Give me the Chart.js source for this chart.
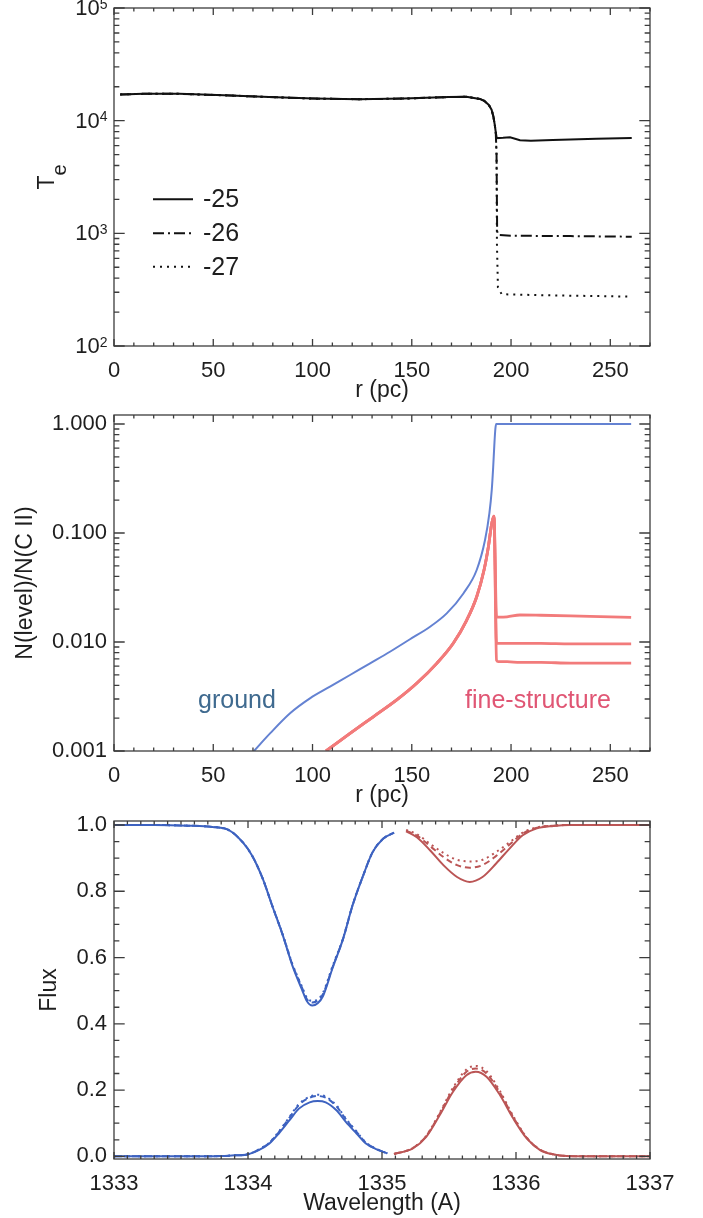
<!DOCTYPE html>
<html>
<head>
<meta charset="utf-8">
<script src="https://cdn.jsdelivr.net/npm/chart.js@4.4.0/dist/chart.umd.min.js"></script>
<style>
  html, body { margin: 0; padding: 0; background: #fff; }
  #page { position: relative; width: 703px; height: 1218px; }
  canvas { position: absolute; left: 0; }
</style>
</head>
<body>
<div id="page">
  <canvas id="c-te"   width="703" height="405" style="top:0px"></canvas>
  <canvas id="c-lev"  width="703" height="405" style="top:405px"></canvas>
  <canvas id="c-flux" width="703" height="408" style="top:810px"></canvas>
</div>
<script>
// ---- panel 1 : electron temperature vs r ----
const seriesLabels = ["-25", "-26", "-27"];
const rShared  = [3.1, 15, 32.9, 55.5, 78.1, 100.7, 123.3, 145.9, 168.5, 177.5, 184.3, 186.5, 188.8, 190.2, 191.1, 191.8, 192.3];
const teShared = [17100, 17300, 17300, 16800, 16200, 15700, 15500, 15700, 16200, 16300, 15600, 15000, 13800, 12500, 10900, 9200, 7900];
const rTail25  = [192.8, 196, 199.5, 204.5, 210, 221, 243, 260.8];
const teTail25 = [7000, 7050, 7130, 6700, 6650, 6730, 6920, 7000];
const rTail26  = [192.7, 193.0, 193.5, 201, 230, 260.8];
const teTail26 = [5000, 1050, 966, 952, 945, 933];
const rTail27  = [192.7, 192.9, 193.4, 195.3, 213, 240, 260.8];
const teTail27 = [5000, 800, 330, 288, 283, 278, 274];
const rTicks    = [0, 50, 100, 150, 200, 250];
const teTicks   = [100, 1000, 10000, 100000];
const teTickExp = ["2", "3", "4", "5"];

// ---- panel 2 : level populations ----
const rGround = [70.5, 78.6, 88.7, 98.7, 108.8, 118.9, 129.0, 139.0, 149.1, 159.2, 167.6, 176.0, 182.7, 186.9, 189.1, 190.3, 191.0, 191.6, 192.1, 192.5, 200, 220, 240, 260.5];
const ground  = [0.001, 0.00145, 0.00222, 0.00304, 0.00389, 0.00498, 0.00637, 0.00814, 0.0106, 0.0138, 0.0183, 0.0279, 0.0458, 0.0862, 0.152, 0.25, 0.4, 0.65, 0.9, 1.0, 1.0, 1.0, 1.0, 1.0];
const rFine    = [106.8, 118.9, 130.6, 142.4, 152.5, 162.6, 170.9, 177.7, 182.7, 186.4, 188.6, 190.3, 191.4];
const fineRise = [0.001, 0.00145, 0.00206, 0.00294, 0.00418, 0.00637, 0.00973, 0.0159, 0.026, 0.0458, 0.075, 0.123, 0.143];
const rFineTail = [192.7, 193.6, 198, 204.5, 215, 230, 245, 260.5];
const fineTop   = [0.0171, 0.0169, 0.0170, 0.0177, 0.0176, 0.0174, 0.0171, 0.0168];
const fineMid   = [0.0097, 0.0097, 0.0097, 0.0097, 0.0097, 0.0096, 0.0096, 0.0096];
const fineLow   = [0.0068, 0.0066, 0.0066, 0.0065, 0.0065, 0.0064, 0.0064, 0.0064];
const levTicks      = [0.001, 0.01, 0.1, 1];
const levTickLabels = ["0.001", "0.010", "0.100", "1.000"];

// ---- panel 3 : line profiles ----
const wlBlueAbs   = [1333.0, 1333.3, 1333.55, 1333.735, 1333.86, 1333.96, 1334.03, 1334.11, 1334.18, 1334.26, 1334.33, 1334.40, 1334.44, 1334.48, 1334.52, 1334.56, 1334.63, 1334.71, 1334.78, 1334.86, 1334.93, 1335.01, 1335.09];
const blueAbsSolid = [1.0, 1.0, 0.998, 0.994, 0.984, 0.948, 0.908, 0.838, 0.757, 0.667, 0.577, 0.506, 0.468, 0.455, 0.462, 0.484, 0.567, 0.657, 0.757, 0.848, 0.918, 0.959, 0.977];
const blueAbsDash  = [1.0, 1.0, 0.998, 0.994, 0.984, 0.948, 0.908, 0.838, 0.757, 0.667, 0.580, 0.512, 0.474, 0.464, 0.470, 0.490, 0.570, 0.657, 0.757, 0.848, 0.918, 0.959, 0.977];
const blueAbsDot   = [1.0, 1.0, 0.998, 0.994, 0.984, 0.948, 0.908, 0.838, 0.758, 0.669, 0.582, 0.515, 0.478, 0.469, 0.474, 0.494, 0.573, 0.659, 0.758, 0.848, 0.918, 0.959, 0.977];
const wlBlueEm    = [1333.0, 1333.5, 1333.8, 1333.9, 1333.985, 1334.08, 1334.16, 1334.23, 1334.31, 1334.38, 1334.46, 1334.52, 1334.58, 1334.66, 1334.73, 1334.81, 1334.88, 1334.96, 1335.04];
const blueEmSolid = [0, 0, 0.001, 0.003, 0.005, 0.019, 0.039, 0.069, 0.109, 0.144, 0.163, 0.167, 0.163, 0.139, 0.104, 0.069, 0.039, 0.021, 0.009];
const blueEmDash  = [0, 0, 0.001, 0.003, 0.005, 0.020, 0.041, 0.073, 0.117, 0.155, 0.177, 0.182, 0.177, 0.151, 0.112, 0.074, 0.041, 0.022, 0.009];
const blueEmDot   = [0, 0, 0.001, 0.003, 0.005, 0.021, 0.042, 0.075, 0.119, 0.158, 0.180, 0.186, 0.180, 0.154, 0.114, 0.075, 0.042, 0.022, 0.009];
const wlRedAbs    = [1335.18, 1335.26, 1335.36, 1335.46, 1335.56, 1335.655, 1335.75, 1335.85, 1335.95, 1336.05, 1336.15, 1336.28, 1336.4, 1336.6, 1336.8, 1337.0];
const redAbsSolid = [0.981, 0.963, 0.923, 0.878, 0.843, 0.828, 0.843, 0.883, 0.928, 0.969, 0.989, 0.997, 1, 1, 1, 1];
const redAbsDash  = [0.983, 0.968, 0.936, 0.903, 0.879, 0.871, 0.879, 0.906, 0.940, 0.974, 0.991, 0.998, 1, 1, 1, 1];
const redAbsDot   = [0.985, 0.972, 0.943, 0.915, 0.895, 0.890, 0.895, 0.918, 0.947, 0.977, 0.992, 0.998, 1, 1, 1, 1];
const wlRedEm     = [1335.09, 1335.23, 1335.33, 1335.43, 1335.53, 1335.63, 1335.70, 1335.78, 1335.88, 1335.98, 1336.08, 1336.18, 1336.28, 1336.38, 1336.6, 1337.0];
const redEmSolid  = [0.007, 0.024, 0.059, 0.124, 0.195, 0.245, 0.255, 0.240, 0.185, 0.114, 0.054, 0.019, 0.006, 0.001, 0, 0];
const redEmDash   = [0.007, 0.025, 0.061, 0.128, 0.202, 0.255, 0.265, 0.250, 0.192, 0.118, 0.056, 0.020, 0.006, 0.001, 0, 0];
const redEmDot    = [0.007, 0.025, 0.062, 0.131, 0.207, 0.262, 0.273, 0.257, 0.197, 0.121, 0.057, 0.020, 0.006, 0.001, 0, 0];
const wlTicks        = [1333, 1334, 1335, 1336, 1337];
const fluxTicks      = [0, 0.2, 0.4, 0.6, 0.8, 1.0];
const fluxTickLabels = ["0.0", "0.2", "0.4", "0.6", "0.8", "1.0"];

// ---- style ----
const FONT  = "'Liberation Sans', Arial, Helvetica, sans-serif";
const INK   = "#1e1e1e";
const FRAME = "#3c3c3c";
const TICK_FONT  = { family: FONT, size: 22 };
const TITLE_FONT = { family: FONT, size: 23 };
const DASH_DOT = [11, 4, 2, 4];
const DOTTED   = [2, 5];
const BLUE_LEV  = "#6482d2";
const RED_LEV   = "#f27b7b";
const BLUE_FLUX = "#3d62c0";
const RED_FLUX  = "#bb5555";

function pts(xs, ys) {
  return xs.map((x, i) => ({ x, y: ys[i] }));
}

// box + inward major/minor ticks on all four sides
const idlAxes = {
  id: "idlAxes",
  afterDatasetsDraw(chart, args, o) {
    const { ctx, chartArea: a } = chart;
    const xs = chart.scales.x, ys = chart.scales.y;
    ctx.save();
    ctx.strokeStyle = FRAME;
    ctx.lineWidth = 1.3;
    ctx.strokeRect(a.left, a.top, a.right - a.left, a.bottom - a.top);
    ctx.beginPath();
    const xTick = (v, len) => {
      const p = xs.getPixelForValue(v);
      ctx.moveTo(p, a.bottom); ctx.lineTo(p, a.bottom - len);
      ctx.moveTo(p, a.top);    ctx.lineTo(p, a.top + len);
    };
    const yTick = (v, len) => {
      const p = ys.getPixelForValue(v);
      ctx.moveTo(a.left, p);  ctx.lineTo(a.left + len, p);
      ctx.moveTo(a.right, p); ctx.lineTo(a.right - len, p);
    };
    xs.ticks.forEach(t => xTick(t.value, o.xLen));
    ys.ticks.forEach(t => yTick(t.value, o.yLen));
    const k0 = Math.ceil(xs.min / o.xMinor - 1e-9);
    for (let k = k0; k * o.xMinor <= xs.max + 1e-9; k++) xTick(k * o.xMinor, o.xLen / 2);
    if (o.yMinor === "log") {
      for (let d = Math.floor(Math.log10(ys.min)); d <= Math.ceil(Math.log10(ys.max)); d++) {
        for (let m = 2; m <= 9; m++) {
          const v = m * Math.pow(10, d);
          if (v > ys.min && v < ys.max) yTick(v, o.yLen / 2);
        }
      }
    } else {
      const j0 = Math.ceil(ys.min / o.yMinor - 1e-9);
      for (let j = j0; j * o.yMinor <= ys.max + 1e-9; j++) yTick(j * o.yMinor, o.yLen / 2);
    }
    ctx.stroke();
    ctx.restore();
  },
};

// 10^n tick labels and the T_e title (need mixed font sizes)
const sciText = {
  id: "sciText",
  afterDraw(chart, args, o) {
    if (!o.exps) return;
    const { ctx, chartArea: a } = chart;
    const ys = chart.scales.y;
    ctx.save();
    ctx.fillStyle = INK;
    ys.ticks.forEach((t, i) => {
      const p = ys.getPixelForValue(t.value);
      ctx.font = `14px ${FONT}`;
      const w = ctx.measureText(o.exps[i]).width;
      ctx.textAlign = "left";
      ctx.textBaseline = "alphabetic";
      ctx.fillText(o.exps[i], o.right - w, p + 0.5);
      ctx.font = `22px ${FONT}`;
      ctx.textAlign = "right";
      ctx.textBaseline = "middle";
      ctx.fillText("10", o.right - w, p + 1);
    });
    // rotated title with subscript
    ctx.translate(o.titleX, (a.top + a.bottom) / 2);
    ctx.rotate(-Math.PI / 2);
    ctx.textAlign = "left";
    ctx.textBaseline = "alphabetic";
    ctx.font = `23px ${FONT}`;
    const tw = ctx.measureText(o.title[0]).width;
    ctx.font = `20px ${FONT}`;
    const ew = ctx.measureText(o.title[1]).width;
    const x0 = -(tw + ew) / 2;
    ctx.font = `23px ${FONT}`;
    ctx.fillText(o.title[0], x0, 2);
    ctx.font = `20px ${FONT}`;
    ctx.fillText(o.title[1], x0 + tw, 14);
    ctx.restore();
  },
};

// legend with line samples inside the plot
const lineKey = {
  id: "lineKey",
  afterDraw(chart, args, o) {
    if (!o.rows) return;
    const { ctx } = chart;
    ctx.save();
    chart.data.datasets.forEach((ds, i) => {
      const y = o.rows[i];
      ctx.strokeStyle = ds.borderColor;
      ctx.lineWidth = ds.borderWidth;
      ctx.setLineDash(ds.borderDash || []);
      ctx.beginPath();
      ctx.moveTo(o.x0, y); ctx.lineTo(o.x1, y);
      ctx.stroke();
      ctx.setLineDash([]);
      ctx.fillStyle = INK;
      ctx.font = `${o.size}px ${FONT}`;
      ctx.textBaseline = "middle";
      ctx.fillText(ds.label, o.tx, y + 1);
    });
    ctx.restore();
  },
};

// free text notes placed inside the plot
const notes = {
  id: "notes",
  afterDraw(chart, args, o) {
    if (!o.items) return;
    const { ctx } = chart;
    ctx.save();
    o.items.forEach(n => {
      ctx.fillStyle = n.color;
      ctx.font = `${n.size}px ${FONT}`;
      ctx.textBaseline = "alphabetic";
      ctx.fillText(n.text, n.x, n.y);
    });
    ctx.restore();
  },
};

function xAxis(min, max, ticks, title) {
  return {
    type: "linear", min, max,
    afterBuildTicks: s => { s.ticks = ticks.map(v => ({ value: v })); },
    afterFit: s => { s.height = 59; s.paddingLeft = 0; s.paddingRight = 0; },
    grid: { display: false, drawTicks: false },
    border: { display: false },
    ticks: { padding: 12, color: INK, font: TICK_FONT, maxRotation: 0, autoSkip: false, callback: v => String(v) },
    title: { display: true, text: title, color: INK, font: TITLE_FONT, padding: { top: 0, bottom: 1 } },
  };
}

function yAxis(type, min, max, ticks, labels, title, titlePad) {
  return {
    type, min, max,
    afterBuildTicks: s => { s.ticks = ticks.map(v => ({ value: v })); },
    afterFit: s => { s.width = 114; s.paddingTop = 0; s.paddingBottom = 0; },
    grid: { display: false, drawTicks: false },
    border: { display: false },
    ticks: { padding: 7, color: INK, font: TICK_FONT, autoSkip: false, callback: (v, i) => labels ? labels[i] : "" },
    title: { display: !!title, text: title || "", color: INK, font: TITLE_FONT, padding: { top: titlePad, bottom: 0 } },
  };
}

function baseOptions(padTop, scales, pluginOpts) {
  return {
    responsive: false,
    animation: false,
    events: [],
    devicePixelRatio: 1,
    layout: { padding: { top: padTop, right: 53, bottom: 0, left: 0 }, autoPadding: false },
    elements: { point: { radius: 0 }, line: { tension: 0, borderCapStyle: "butt" } },
    plugins: Object.assign({ legend: { display: false }, tooltip: { enabled: false } }, pluginOpts),
    scales,
  };
}

// ---- chart 1 ----
new Chart(document.getElementById("c-te"), {
  type: "line",
  data: {
    datasets: [
      { label: seriesLabels[0], data: pts(rShared.concat(rTail25), teShared.concat(teTail25)), borderColor: "#111", borderWidth: 2 },
      { label: seriesLabels[1], data: pts(rShared.concat(rTail26), teShared.concat(teTail26)), borderColor: "#111", borderWidth: 2, borderDash: DASH_DOT },
      { label: seriesLabels[2], data: pts(rShared.concat(rTail27), teShared.concat(teTail27)), borderColor: "#111", borderWidth: 2, borderDash: DOTTED },
    ],
  },
  options: baseOptions(8, {
    x: xAxis(0, 270, rTicks, "r (pc)"),
    y: yAxis("logarithmic", 100, 100000, teTicks, null, null, 0),
  }, {
    idlAxes: { xLen: 7, yLen: 10.7, xMinor: 10, yMinor: "log" },
    sciText: { exps: teTickExp, right: 107.5, title: ["T", "e"], titleX: 52 },
    lineKey: { x0: 153, x1: 193, tx: 203, size: 25, rows: [199.3, 233.3, 266.7] },
  }),
  plugins: [idlAxes, sciText, lineKey],
});

// ---- chart 2 ----
new Chart(document.getElementById("c-lev"), {
  type: "line",
  data: {
    datasets: [
      { label: "ground", data: pts(rGround, ground), borderColor: BLUE_LEV, borderWidth: 2, cubicInterpolationMode: "monotone" },
      { label: "fs1", data: pts(rFine.concat(rFineTail), fineRise.concat(fineTop)), borderColor: RED_LEV, borderWidth: 2.8, cubicInterpolationMode: "monotone" },
      { label: "fs2", data: pts(rFine.concat(rFineTail), fineRise.concat(fineMid)), borderColor: RED_LEV, borderWidth: 2.8, cubicInterpolationMode: "monotone" },
      { label: "fs3", data: pts(rFine.concat(rFineTail), fineRise.concat(fineLow)), borderColor: RED_LEV, borderWidth: 2.8, cubicInterpolationMode: "monotone" },
    ],
  },
  options: baseOptions(10, {
    x: xAxis(0, 270, rTicks, "r (pc)"),
    y: yAxis("logarithmic", 0.001, 1.21, levTicks, levTickLabels, "N(level)/N(C II)", 12),
  }, {
    idlAxes: { xLen: 7, yLen: 10.7, xMinor: 10, yMinor: "log" },
    notes: { items: [
      { text: "ground", x: 198, y: 303, size: 25, color: "#3f6a8f" },
      { text: "fine-structure", x: 465, y: 303, size: 25, color: "#e05674" },
    ] },
  }),
  plugins: [idlAxes, notes],
});

// ---- chart 3 ----
function prof(wl, vals, color, dash) {
  return { data: pts(wl, vals), borderColor: color, borderWidth: 2, borderDash: dash, cubicInterpolationMode: "monotone" };
}
new Chart(document.getElementById("c-flux"), {
  type: "line",
  data: {
    datasets: [
      prof(wlBlueAbs, blueAbsSolid, BLUE_FLUX, []),
      prof(wlBlueAbs, blueAbsDash, BLUE_FLUX, [6, 4]),
      prof(wlBlueAbs, blueAbsDot, BLUE_FLUX, [2, 4]),
      prof(wlBlueEm, blueEmSolid, BLUE_FLUX, []),
      prof(wlBlueEm, blueEmDash, BLUE_FLUX, [6, 4]),
      prof(wlBlueEm, blueEmDot, BLUE_FLUX, [2, 4]),
      prof(wlRedAbs, redAbsSolid, RED_FLUX, []),
      prof(wlRedAbs, redAbsDash, RED_FLUX, [6, 4]),
      prof(wlRedAbs, redAbsDot, RED_FLUX, [2, 4]),
      prof(wlRedEm, redEmSolid, RED_FLUX, []),
      prof(wlRedEm, redEmDash, RED_FLUX, [6, 4]),
      prof(wlRedEm, redEmDot, RED_FLUX, [2, 4]),
    ],
  },
  options: baseOptions(11, {
    x: xAxis(1333, 1337, wlTicks, "Wavelength (A)"),
    y: yAxis("linear", -0.008, 1.012, fluxTicks, fluxTickLabels, "Flux", 36),
  }, {
    idlAxes: { xLen: 7, yLen: 10.7, xMinor: 0.1, yMinor: 0.05 },
  }),
  plugins: [idlAxes],
});
</script>
</body>
</html>
